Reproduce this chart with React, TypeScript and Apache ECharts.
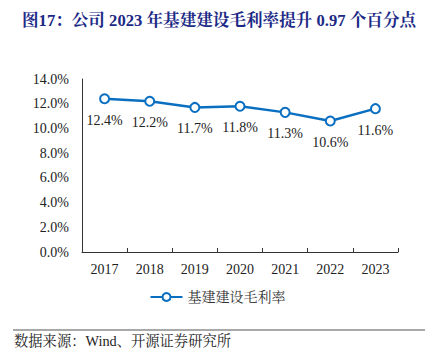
import React, { useEffect, useRef } from "react";
import * as echarts from "echarts";

const categories = ["2017", "2018", "2019", "2020", "2021", "2022", "2023"];
const margin = [12.4, 12.2, 11.7, 11.8, 11.3, 10.6, 11.6];
const seriesName = "基建建设毛利率";
const titleText = "图17：公司 2023 年基建建设毛利率提升 0.97 个百分点";
const sourceText = "数据来源：Wind、开源证券研究所";

const SERIF = '"Liberation Serif", "Times New Roman", "Noto Serif CJK SC", "Noto Sans CJK SC", serif';

export default function App() {
  const ref = useRef<HTMLDivElement>(null);
  useEffect(() => {
    if (!ref.current) return;
    const chart = echarts.init(ref.current, null, { renderer: "svg" });
    chart.setOption({
      animation: false,
      backgroundColor: "#ffffff",
      title: {
        text: titleText,
        left: 17,
        top: 7,
        textStyle: { fontSize: 16.6, fontWeight: "bold", color: "#1c2a86", fontFamily: SERIF },
      },
      grid: { left: 82, right: 37, top: 79, bottom: 104, containLabel: false },
      legend: {
        data: [seriesName],
        bottom: 47,
        left: "center",
        itemWidth: 32,
        itemHeight: 10,
        itemGap: 6,
        textStyle: { fontSize: 14, color: "#333", fontFamily: SERIF },
      },
      xAxis: {
        type: "category",
        data: categories,
        boundaryGap: true,
        axisLine: { lineStyle: { color: "#333", width: 1 } },
        axisTick: { show: true, inside: true, length: 4, alignWithLabel: false, lineStyle: { color: "#333" } },
        axisLabel: { fontSize: 14, color: "#222", fontFamily: SERIF, margin: 10 },
      },
      yAxis: {
        type: "value",
        min: 0,
        max: 14,
        interval: 2,
        splitLine: { show: false },
        axisLine: { show: true, lineStyle: { color: "#333", width: 1 } },
        axisTick: { show: false },
        axisLabel: {
          fontSize: 14,
          color: "#222",
          fontFamily: SERIF,
          margin: 13,
          formatter: (v: number) => v.toFixed(1) + "%",
        },
      },
      series: [
        {
          name: seriesName,
          type: "line",
          data: margin,
          symbol: "emptyCircle",
          symbolSize: 9,
          lineStyle: { color: "#0b6fc1", width: 2.5 },
          itemStyle: { color: "#0b6fc1", borderWidth: 2.5 },
          label: {
            show: true,
            position: "bottom",
            distance: 9,
            fontSize: 14,
            color: "#222",
            fontFamily: SERIF,
            formatter: (p: any) => p.value.toFixed(1) + "%",
          },
        },
      ],
      graphic: [
        {
          type: "line",
          shape: { x1: 13, y1: 330, x2: 425, y2: 330 },
          style: { stroke: "#555", lineWidth: 1.2 },
        },
        {
          type: "text",
          left: 14,
          top: 334,
          style: { text: sourceText, fontSize: 14.3, fill: "#222", fontFamily: SERIF },
        },
      ],
    });
    return () => chart.dispose();
  }, []);
  return (
    <div
      ref={ref}
      style={{ position: "fixed", left: 0, top: 0, width: 435, height: 356 }}
    />
  );
}
